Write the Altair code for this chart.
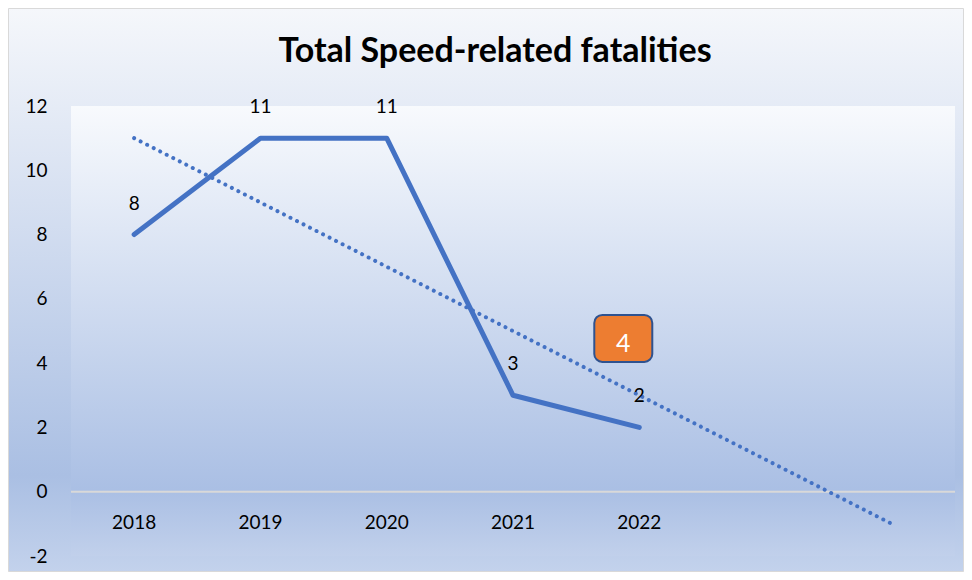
import altair as alt
import pandas as pd
import numpy as np

years = ["2018", "2019", "2020", "2021", "2022"]
fatalities = [8, 11, 11, 3, 2]
all_years = ["2018", "2019", "2020", "2021", "2022", "2023", "2024"]
y_ticks = [-2, 0, 2, 4, 6, 8, 10, 12]
note_year = ["2022"]
note_value = [4.77]
note_text = ["4"]
title = "Total Speed-related fatalities"

FONT = "Lato"
W, H = 884, 450
PL, PT, PR, PB = 63, 98, 9, 16

# linear trend (Excel "linear trendline" with 2-period forecast)
idx = np.arange(len(years))
slope, intercept = np.polyfit(idx, fatalities, 1)
trend_idx = np.arange(len(all_years))
trend_vals = slope * trend_idx + intercept

df = pd.DataFrame({"year": years, "value": fatalities})
trend = pd.DataFrame({"year": all_years, "value": trend_vals})
note = pd.DataFrame({"year": note_year, "value": note_value, "label": note_text})
one = pd.DataFrame({"a": [0]})

xscale = alt.Scale(type="point", domain=all_years, padding=0.5)
yscale = alt.Scale(domain=[-2, 12], nice=False, zero=False)

outer_grad = alt.LinearGradient(
    gradient="linear", x1=0, x2=0, y1=0, y2=1,
    stops=[alt.GradientStop(color="#f5f7fb", offset=0),
           alt.GradientStop(color="#aabfe3", offset=0.83),
           alt.GradientStop(color="#c3d2ec", offset=1)])
plot_grad = alt.LinearGradient(
    gradient="linear", x1=0, x2=0, y1=0, y2=1,
    stops=[alt.GradientStop(color="#f8fafd", offset=0),
           alt.GradientStop(color="#aabfe4", offset=0.853),
           alt.GradientStop(color="#c1d0eb", offset=1)])

outer_bg = alt.Chart(one).mark_rect(color=outer_grad, stroke="#d9d9d9", strokeWidth=1).encode(
    x=alt.value(-PL + 0.5), x2=alt.value(W + PR - 0.5),
    y=alt.value(-PT + 0.5), y2=alt.value(H + PB - 0.5))
plot_bg = alt.Chart(one).mark_rect(color=plot_grad).encode(
    x=alt.value(0), x2=alt.value(W), y=alt.value(0), y2=alt.value(H))

title_mark = alt.Chart(one).mark_text(
    text=title, font=FONT, fontSize=34, fontWeight="bold", color="#000000",
    align="center", baseline="middle").encode(
    x=alt.value(424), y=alt.value(-54))

zero_rule = alt.Chart(one).mark_rule(color="#d9d9d9", strokeWidth=2).encode(
    y=alt.datum(0, scale=yscale), x=alt.value(0), x2=alt.value(W))

yaxis = alt.Axis(values=y_ticks, grid=False, domain=False, ticks=False,
                 labelFont=FONT, labelFontSize=19, labelColor="#000000",
                 labelPadding=24, title=None, zindex=2,
                 labelExpr="toString(datum.value)")

trend_line = alt.Chart(trend).mark_line(
    color="#4472c4", strokeWidth=4, strokeDash=[0.01, 7.3], strokeCap="round").encode(
    x=alt.X("year:N", scale=xscale, axis=None, sort=all_years),
    y=alt.Y("value:Q", scale=yscale, axis=yaxis))

main_line = alt.Chart(df).mark_line(
    color="#4472c4", strokeWidth=5, strokeCap="round", strokeJoin="round").encode(
    x=alt.X("year:N", scale=xscale, axis=None, sort=all_years),
    y=alt.Y("value:Q", scale=yscale))

data_labels = alt.Chart(df).mark_text(
    font=FONT, fontSize=19, color="#000000", dy=-31, baseline="middle").encode(
    x=alt.X("year:N", scale=xscale, sort=all_years),
    y=alt.Y("value:Q", scale=yscale),
    text="value:Q")

x_labels = alt.Chart(df).mark_text(
    font=FONT, fontSize=19, color="#000000", dy=31, baseline="middle").encode(
    x=alt.X("year:N", scale=xscale, sort=all_years),
    y=alt.datum(0, scale=yscale),
    text="year:N")

note_box = alt.Chart(note).mark_rect(
    width=58, height=47, cornerRadius=8, fill="#ed7d31", stroke="#2f528f",
    strokeWidth=2, xOffset=-16).encode(
    x=alt.X("year:N", scale=xscale, sort=all_years),
    y=alt.Y("value:Q", scale=yscale))
note_text_mark = alt.Chart(note).mark_text(
    font=FONT, fontSize=25, color="#ffffff", dx=-16, dy=6, baseline="middle").encode(
    x=alt.X("year:N", scale=xscale, sort=all_years),
    y=alt.Y("value:Q", scale=yscale),
    text="label:N")

chart = alt.layer(
    outer_bg, plot_bg, title_mark, zero_rule, trend_line, main_line,
    data_labels, x_labels, note_box, note_text_mark
).properties(
    width=W, height=H,
    autosize=alt.AutoSizeParams(type="none"),
    padding={"left": PL, "top": PT, "right": PR, "bottom": PB},
).configure_view(stroke=None).configure(background="#ffffff")

chart.save("out.html", embed_options={"renderer": "svg", "actions": False})
